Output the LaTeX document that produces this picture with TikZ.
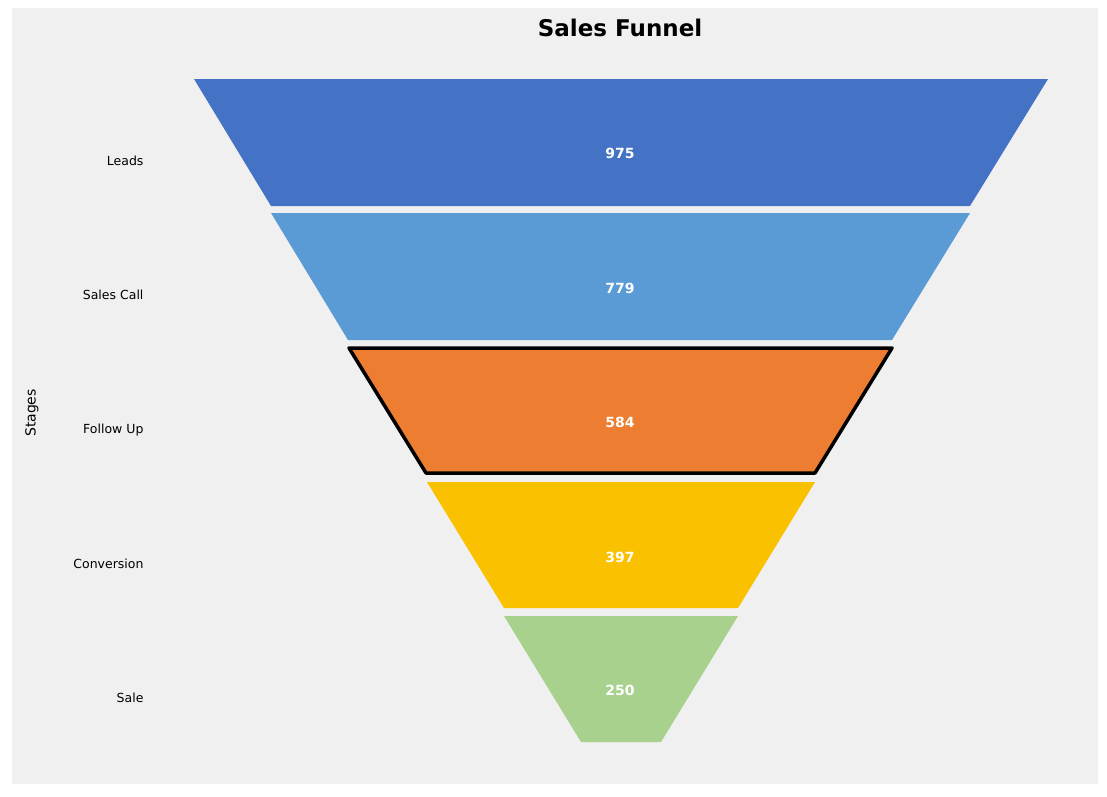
\documentclass[tikz,border=0pt]{standalone}
\usepackage{fontspec}
\setmainfont{DejaVu Sans}
\definecolor{bg}{HTML}{F0F0F0}
\definecolor{c1}{HTML}{4472C4}
\definecolor{c2}{HTML}{5B9BD5}
\definecolor{c3}{HTML}{ED7D31}
\definecolor{c4}{HTML}{F9C100}
\definecolor{c5}{HTML}{A9D18E}
\begin{document}
\begin{tikzpicture}[x=1pt,y=-1pt,
  val/.style={text=white,font=\fontsize{14}{16}\selectfont\bfseries},
  stage/.style={anchor=east,font=\fontsize{12.5}{15}\selectfont}]
\useasboundingbox (0,0) rectangle (1107,796);
\fill[white] (0,0) rectangle (1107,796);
\fill[bg] (12,8) rectangle (1098,784);
\fill[c1] (194,79) -- (1048,79) -- (970,206) -- (271,206) -- cycle;
\fill[c2] (271,213) -- (970,213) -- (892,340) -- (348,340) -- cycle;
\filldraw[fill=c3,draw=black,line width=3.5pt,line join=round] (349,348) -- (892,348) -- (815,473) -- (426,473) -- cycle;
\fill[c4] (427,482) -- (815,482) -- (738,608) -- (504,608) -- cycle;
\fill[c5] (504,616) -- (738,616) -- (661,742) -- (581,742) -- cycle;
\node[val] (v1) at (620,153) {975};
\node[val] (v2) at (620,288) {779};
\node[val] (v3) at (620,422) {584};
\node[val] (v4) at (620,557) {397};
\node[val] (v5) at (620,690) {250};
\node[stage] (s1) at (147,161) {Leads};
\node[stage] (s2) at (147,295) {Sales Call};
\node[stage] (s3) at (147,430) {Follow Up};
\node[stage] (s4) at (147,564) {Conversion};
\node[stage] (s5) at (147,698) {Sale};
\node[rotate=90,font=\fontsize{14}{16}\selectfont] (yl) at (32,413) {Stages};
\node[font=\fontsize{23}{26}\selectfont\bfseries] (t) at (620,28) {Sales Funnel};
\end{tikzpicture}
\end{document}
